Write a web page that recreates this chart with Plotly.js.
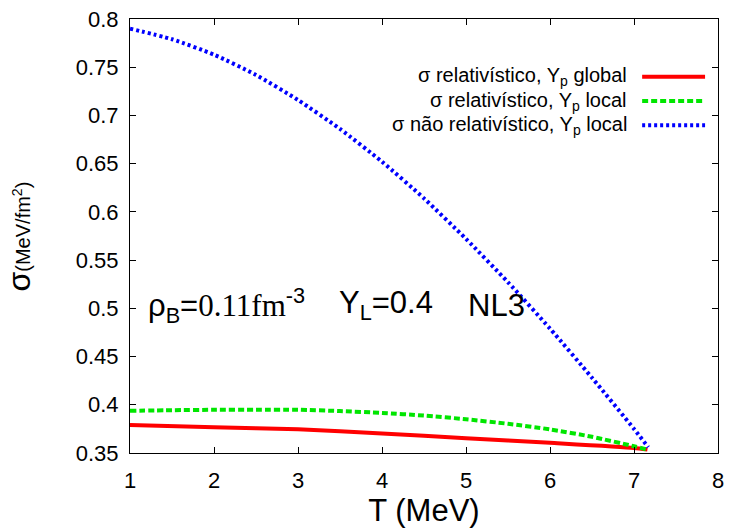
<!DOCTYPE html>
<html>
<head>
<meta charset="utf-8">
<script src="https://cdn.plot.ly/plotly-3.0.1.min.js"></script>
<style>html,body{margin:0;padding:0;background:#fff;}</style>
</head>
<body>
<div id="chart" style="width:730px;height:528px;"></div>
<script>
// T (MeV)
const tRelGlobal = [1, 2, 3, 4, 5, 6, 7, 7.16];
const sigmaRelGlobal = [0.379, 0.3766, 0.3745, 0.3703, 0.3654, 0.3605, 0.3552, 0.3535];

const tRelLocal = [1, 1.5, 2, 2.5, 3, 3.5, 4, 4.5, 5, 5.5, 6, 6.5, 7, 7.16];
const sigmaRelLocal = [0.3937, 0.3944, 0.3948, 0.3949, 0.3948, 0.3935, 0.3916, 0.3888, 0.385, 0.3803, 0.3745, 0.3668, 0.357, 0.3535];

const tNonRelLocal = [1, 1.5, 2, 2.5, 3, 3.5, 4, 4.5, 5, 5.5, 6, 6.5, 7, 7.17];
const sigmaNonRelLocal = [0.790, 0.779, 0.763, 0.742, 0.716, 0.686, 0.652, 0.614, 0.572, 0.527, 0.479, 0.428, 0.375, 0.356];

const seriesNames = [
  "σ relativístico, Y<sub>p</sub> global",
  "σ relativístico, Y<sub>p</sub> local",
  "σ não relativístico, Y<sub>p</sub> local"
];
const seriesColors = ["#ff0000", "#00e600", "#0000ff"];
const seriesDash = ["solid", "6px,3px", "3px,3px"];

const xTicks = [1, 2, 3, 4, 5, 6, 7, 8];
const yTicks = [0.35, 0.4, 0.45, 0.5, 0.55, 0.6, 0.65, 0.7, 0.75, 0.8];
const yTickText = ["0.35", "0.4", "0.45", "0.5", "0.55", "0.6", "0.65", "0.7", "0.75", "0.8"];

const xs = [tRelGlobal, tRelLocal, tNonRelLocal];
const ys = [sigmaRelGlobal, sigmaRelLocal, sigmaNonRelLocal];

const traces = xs.map((x, i) => ({
  x: x, y: ys[i], type: "scatter", mode: "lines", name: seriesNames[i],
  line: {color: seriesColors[i], width: 4, dash: seriesDash[i], shape: "spline", smoothing: 0.6},
  showlegend: false
}));

const font = "Liberation Sans, Arial, sans-serif";
const annotations = [];
const shapes = [];
const legendY = [0.867, 0.811, 0.755];
seriesNames.forEach((n, i) => {
  annotations.push({xref: "paper", yref: "paper", x: 0.847, y: legendY[i], xanchor: "right", yanchor: "middle",
    text: n, showarrow: false, font: {family: font, size: 20, color: "#000"}, borderpad: 0});
  shapes.push({type: "line", xref: "paper", yref: "paper", x0: 0.871, x1: 0.978, y0: legendY[i], y1: legendY[i],
    line: {color: seriesColors[i], width: 4, dash: seriesDash[i]}});
});
annotations.push({xref: "paper", yref: "paper", x: 0.027, y: 0.34, xanchor: "left", yanchor: "middle", showarrow: false,
  text: "ρ<sub>B</sub>=<span style='font-family:Liberation Serif, Times New Roman, serif'>0.11fm</span><sup>-3</sup>",
  font: {family: font, size: 31, color: "#000"}});
annotations.push({xref: "paper", yref: "paper", x: 0.352, y: 0.34, xanchor: "left", yanchor: "middle", showarrow: false,
  text: "Y<sub>L</sub>=0.4", font: {family: font, size: 31, color: "#000"}});
annotations.push({xref: "paper", yref: "paper", x: 0.571, y: 0.34, xanchor: "left", yanchor: "middle", showarrow: false,
  text: "NL3", font: {family: font, size: 31, color: "#000"}});
annotations.push({xref: "paper", yref: "paper", x: -0.188, y: 0.5, xanchor: "center", yanchor: "middle", showarrow: false,
  textangle: -90, borderpad: 0,
  text: "σ<span style='font-size:20px'>(MeV/fm<sup>2</sup>)</span>", font: {family: font, size: 32, color: "#000"}});

const layout = {
  width: 730, height: 528,
  margin: {l: 130, r: 12, t: 19, b: 75},
  paper_bgcolor: "#fff", plot_bgcolor: "#fff",
  showlegend: false,
  font: {family: font, size: 22, color: "#000"},
  xaxis: {
    range: [1, 8], tickvals: xTicks, ticktext: xTicks.map(String),
    ticks: "inside", ticklen: 6, tickcolor: "#000", tickwidth: 1,
    showline: true, linecolor: "#000", linewidth: 1, mirror: "allticks",
    showgrid: false, zeroline: false, ticklabelstandoff: 8,
    tickfont: {family: font, size: 22},
    title: {text: "T (MeV)", font: {family: font, size: 31}, standoff: 4}
  },
  yaxis: {
    range: [0.35, 0.8], tickvals: yTicks, ticktext: yTickText,
    ticks: "inside", ticklen: 6, tickcolor: "#000", tickwidth: 1,
    showline: true, linecolor: "#000", linewidth: 1, mirror: "allticks",
    showgrid: false, zeroline: false, ticklabelstandoff: 6,
    tickfont: {family: font, size: 22}
  },
  annotations: annotations,
  shapes: shapes
};

Plotly.newPlot("chart", traces, layout, {displayModeBar: false, staticPlot: true});
</script>
</body>
</html>
